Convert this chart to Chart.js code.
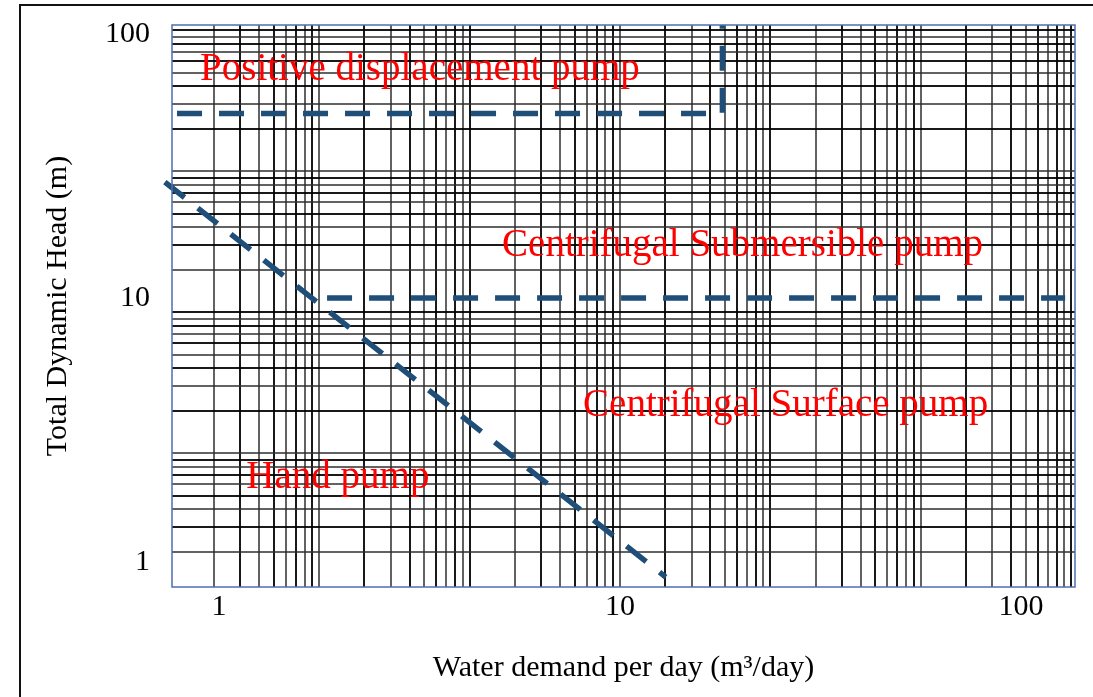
<!DOCTYPE html>
<html>
<head>
<meta charset="utf-8">
<script src="https://cdn.jsdelivr.net/npm/chart.js@4/dist/chart.umd.min.js"></script>
<style>
  body { margin: 0; background: #fff; overflow: hidden; }
  #wrap { position: relative; width: 1093px; height: 697px; }
  #frame { position: absolute; left: 19px; top: 4px; width: 1200px; height: 900px;
           border-left: 2px solid #111; border-top: 2px solid #111; pointer-events: none; }
</style>
</head>
<body>
<div id="wrap">
  <canvas id="grafico" width="1093" height="697"></canvas>
  <div id="frame"></div>
</div>
<script>
// Eixos: valores e rótulos
const xTickValues = [1, 10, 100];
const xTickLabels = ['1', '10', '100'];
const yTickValues = [1, 10, 100];
const yTickLabels = ['1', '10', '100'];
const xMin = 0.7636, xMax = 136.3;
const yMin = 0.8042, yMax = 108.2;

// Papel log de fundo (ciclos próprios, não alinhados com os eixos)
const paperSteps = [1, 1.5, 2, 2.5, 3, 3.5, 4, 4.5, 5];
const paperXMin = 0.5256, paperXMax = 530700;
const paperYMin = 0.5619, paperYMax = 5439;

// Linhas de fronteira entre bombas
const handX = [0.733, 13];
const handY = [27.5, 0.877];
const submersibleX = [1.86, 128.8];
const submersibleY = [10, 10];
const positiveX = [0.786, 18, 18];
const positiveY = [50, 50, 108.2];

// Nomes das regiões e onde ficam (início do texto, linha de base)
const regionNames = ['Positive displacement pump', 'Centrifugal Submersible pump', 'Centrifugal Surface pump', 'Hand pump'];
const regionX = [0.897, 5.08, 8.09, 1.17];
const regionY = [66.9, 14.4, 3.57, 1.91];

const serif = "'Liberation Serif', 'Times New Roman', serif";
const azul = '#1f4e79';

function pontos(xs, ys) {
    return xs.map((x, i) => ({ x: x, y: ys[i] }));
}

function ticksPapel(min, max) {
    const ticks = [];
    for (let n = -2; n <= 7; n++) {
        paperSteps.forEach(k => {
            const v = k * Math.pow(10, n);
            if (v > min && v < max) ticks.push({ value: v });
        });
    }
    return ticks;
}

const linha = {
    showLine: true,
    pointRadius: 0,
    borderColor: azul,
    borderWidth: 5.5,
    borderDash: [25, 17],
    borderCapStyle: 'butt',
    fill: false,
    clip: 10
};

// textos vermelhos das regiões, posicionados pelas escalas
const rotulosRegioes = {
    id: 'rotulosRegioes',
    afterDatasetsDraw(chart) {
        const ctx = chart.ctx;
        const sx = chart.scales.x, sy = chart.scales.y;
        ctx.save();
        ctx.font = '39px ' + serif;
        ctx.fillStyle = '#ff0000';
        ctx.textAlign = 'left';
        ctx.textBaseline = 'alphabetic';
        regionNames.forEach((nome, i) => {
            ctx.fillText(nome, sx.getPixelForValue(regionX[i]), sy.getPixelForValue(regionY[i]));
        });
        ctx.restore();
    },
    afterDraw(chart) {
        const a = chart.chartArea;
        const ctx = chart.ctx;
        ctx.save();
        ctx.strokeStyle = '#4f6fae';
        ctx.lineWidth = 1.5;
        ctx.strokeRect(a.left, a.top, a.right - a.left, a.bottom - a.top);
        ctx.restore();
    }
};

const corGrade = c => (c.index % 2 ? 'rgba(0,0,0,0.9)' : 'rgba(45,45,45,0.75)');

new Chart(document.getElementById('grafico').getContext('2d'), {
    type: 'scatter',
    data: {
        datasets: [
            Object.assign({ label: 'Hand pump', data: pontos(handX, handY) }, linha),
            Object.assign({ label: 'Submersible', data: pontos(submersibleX, submersibleY) }, linha),
            Object.assign({ label: 'Positive displacement', data: pontos(positiveX, positiveY) }, linha)
        ]
    },
    plugins: [rotulosRegioes],
    options: {
        responsive: false,
        animation: false,
        devicePixelRatio: 1,
        layout: { padding: { left: 0, top: 25, right: 18, bottom: 0 } },
        plugins: { legend: { display: false }, tooltip: { enabled: false } },
        scales: {
            x: {
                type: 'logarithmic',
                position: 'bottom',
                min: xMin,
                max: xMax,
                afterBuildTicks: s => { s.ticks = xTickValues.map(v => ({ value: v })); },
                afterFit: s => { s.height = 110; s.paddingLeft = 0; s.paddingRight = 0; },
                grid: { display: false, drawTicks: false },
                border: { display: false },
                ticks: {
                    padding: 2,
                    autoSkip: false,
                    maxRotation: 0,
                    color: '#000',
                    font: { family: serif, size: 30 },
                    callback: (v, i) => xTickLabels[i]
                },
                title: {
                    display: true,
                    text: 'Water demand per day (m³/day)',
                    color: '#000',
                    font: { family: serif, size: 30 },
                    padding: { top: 0, bottom: 11 }
                }
            },
            y: {
                type: 'logarithmic',
                position: 'left',
                min: yMin,
                max: yMax,
                afterBuildTicks: s => { s.ticks = yTickValues.map(v => ({ value: v })); },
                afterFit: s => { s.width = 172; s.paddingTop = 0; s.paddingBottom = 0; },
                grid: { display: false, drawTicks: false },
                border: { display: false },
                ticks: {
                    padding: 22,
                    autoSkip: false,
                    color: '#000',
                    font: { family: serif, size: 30 },
                    callback: (v, i) => yTickLabels[i]
                },
                title: {
                    display: true,
                    text: 'Total Dynamic Head (m)',
                    color: '#000',
                    font: { family: serif, size: 30 },
                    padding: { top: 40, bottom: 0 }
                }
            },
            papelX: {
                type: 'logarithmic',
                position: 'bottom',
                min: paperXMin,
                max: paperXMax,
                afterBuildTicks: s => { s.ticks = ticksPapel(paperXMin, paperXMax); },
                afterFit: s => { s.height = 0; s.paddingLeft = 0; s.paddingRight = 0; },
                grid: { color: corGrade, lineWidth: 2, drawTicks: false },
                border: { display: false },
                ticks: { display: false }
            },
            papelY: {
                type: 'logarithmic',
                position: 'left',
                min: paperYMin,
                max: paperYMax,
                afterBuildTicks: s => { s.ticks = ticksPapel(paperYMin, paperYMax); },
                afterFit: s => { s.width = 0; s.paddingTop = 0; s.paddingBottom = 0; },
                grid: { color: corGrade, lineWidth: 2, drawTicks: false },
                border: { display: false },
                ticks: { display: false }
            }
        }
    }
});
</script>
</body>
</html>
